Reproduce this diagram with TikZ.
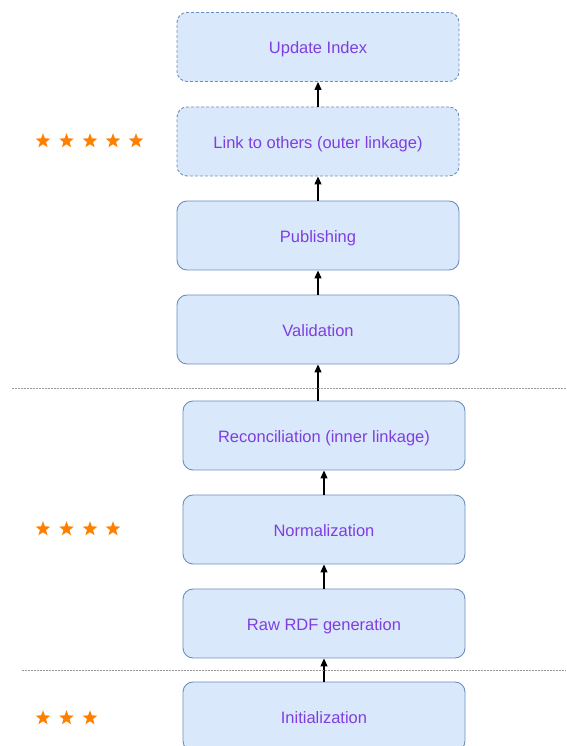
\documentclass[tikz,border=0pt]{standalone}
\usepackage{fontspec}
\setmainfont{Liberation Sans}
\usetikzlibrary{arrows.meta,shapes.geometric}
\definecolor{boxfill}{HTML}{DAE8FC}
\definecolor{boxline}{HTML}{6C8EBF}
\definecolor{labelpurple}{HTML}{7F3FE0}
\definecolor{starorange}{HTML}{FF8000}
\definecolor{sepgray}{HTML}{999999}
\tikzset{
  stage/.style={draw=boxline, fill=boxfill, line width=0.9pt, rounded corners=10pt,
    minimum width=282pt, minimum height=69pt, inner sep=0pt,
    text height=13.8pt, text depth=0pt,
    text=labelpurple, font=\fontsize{16.5}{19}\selectfont},
  optstage/.style={stage, dash pattern=on 3pt off 2pt},
  flowtip/.style={-{Triangle[length=8pt,width=7pt]}, line width=1.2pt},
  separator/.style={draw=sepgray, line width=0.9pt, dash pattern=on 1.5pt off 1.5pt},
  rating/.style={star, star points=5, star point ratio=2.4, fill=starorange, draw=none,
    minimum size=15.5pt, inner sep=0pt}
}
\begin{document}
\begin{tikzpicture}[x=1pt,y=1pt]
  \useasboundingbox (0,0) rectangle (566,746);
  \clip (0,0) rectangle (566,746);

  % upper section
  \node[optstage] (upd)  at (318,699)   {Update Index};
  \node[optstage] (link) at (318,604.5) {Link to others (outer linkage)};
  \node[stage]    (pub)  at (318,510.5) {Publishing};
  \node[stage]    (val)  at (318,416.5) {Validation};

  % lower section
  \node[stage] (rec) at (324,310.5) {Reconciliation (inner linkage)};
  \node[stage] (nor) at (324,216.5) {Normalization};
  \node[stage] (raw) at (324,122.5) {Raw RDF generation};
  \node[stage] (ini) at (324,29.5)  {Initialization};

  % flow arrows
  \draw[flowtip] (val.north) -- (pub.south);
  \draw[flowtip] (pub.north) -- (link.south);
  \draw[flowtip] (link.north) -- (upd.south);
  \draw[flowtip] (rec.north -| val.south) -- (val.south);
  \draw[flowtip] (nor.north) -- (rec.south);
  \draw[flowtip] (raw.north) -- (nor.south);
  \draw[flowtip] (ini.north) -- (raw.south);

  % section separators
  \coordinate (sepAl) at (12,358);
  \coordinate (sepAr) at (566,358);
  \coordinate (sepBl) at (22,76);
  \coordinate (sepBr) at (566,76);
  \draw[separator] (sepAl) -- (sepAr);
  \draw[separator] (sepBl) -- (sepBr);

  % ratings
  \foreach \i/\x in {1/43,2/66.5,3/90,4/113,5/136}
    \node[rating] (top\i) at (\x,605) {};
  \foreach \i/\x in {1/43,2/66.5,3/90,4/113}
    \node[rating] (mid\i) at (\x,217) {};
  \foreach \i/\x in {1/43,2/66.5,3/90}
    \node[rating] (low\i) at (\x,28) {};
\end{tikzpicture}
\end{document}
